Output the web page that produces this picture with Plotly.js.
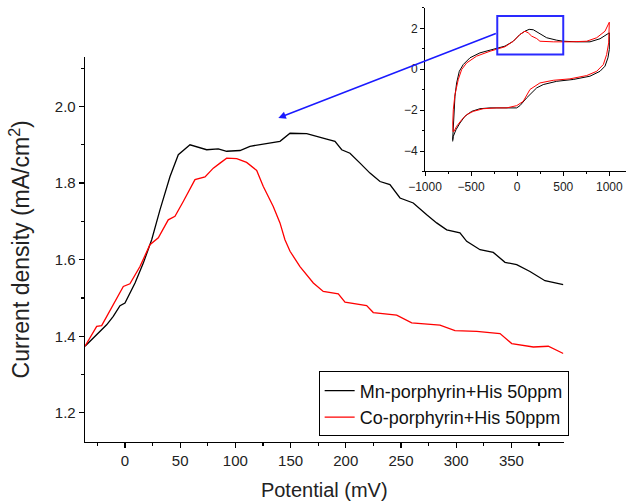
<!DOCTYPE html>
<html><head><meta charset="utf-8">
<script src="https://cdn.plot.ly/plotly-3.0.1.min.js"></script>
<style>html,body{margin:0;padding:0;background:#fff}#chart{width:626px;height:501px}</style>
</head><body><div id="chart"></div>
<script>
// Main chart data (Potential mV vs current density mA/cm2)
const mnX = [-36.2,-25.6,-16.6,-10.6,-4.5,0,9.1,16.6,24.2,31.7,40.8,48.3,58.9,74,84.5,92.1,104.2,113.2,122.3,131.3,140.4,149.5,164.6,182.7,190.2,196.3,203.8,212.9,221.9,231,240,249.1,261.1,273.3,282.3,291.4,303.4,309.5,321.6,333.6,344.2,354.8,366.8,380.4,397];
const mnY = [1.374,1.404,1.430,1.452,1.480,1.487,1.539,1.591,1.652,1.730,1.817,1.874,1.900,1.887,1.889,1.883,1.885,1.896,1.900,1.904,1.909,1.930,1.929,1.915,1.909,1.887,1.878,1.852,1.826,1.804,1.796,1.761,1.748,1.717,1.696,1.678,1.670,1.648,1.626,1.619,1.593,1.587,1.569,1.545,1.535];
const coX = [-36.2,-25.6,-21.1,-10.6,-1.5,4.5,13.6,22.6,30.2,39.2,45.3,52.8,63.4,72.5,80,86.1,92.1,101.2,110.2,119.3,125.3,134.3,140.4,144.9,149.5,158.5,167.6,170.6,179.6,193.2,199.3,218.9,224.9,246.1,259.7,285.3,298.9,318.6,339.7,350.3,369.9,383.4,397];
const coY = [1.374,1.426,1.428,1.483,1.530,1.537,1.582,1.639,1.657,1.704,1.713,1.752,1.809,1.816,1.839,1.852,1.865,1.864,1.854,1.833,1.791,1.739,1.696,1.652,1.622,1.582,1.548,1.539,1.517,1.511,1.489,1.480,1.462,1.455,1.435,1.429,1.415,1.413,1.407,1.381,1.372,1.374,1.355];
const seriesNames = ["Mn-porphyrin+His 50ppm", "Co-porphyrin+His 50ppm"];

// Inset CV loops
const mnCvX = [-700,-693,-686,-675,-657,-628,-585,-512,-404,-259,-132,-42,30,85,130,175,247,320,429,500,646,790,899,964,1000,1000,1000,985,953,899,790,609,429,283,212,103,30,-5,-114,-295,-404,-494,-567,-621,-664,-693,-700];
const mnCvY = [-3.45,-2.79,-2.14,-1.32,-0.67,-0.10,0.23,0.56,0.80,0.97,1.13,1.37,1.70,1.86,1.95,1.93,1.74,1.54,1.42,1.37,1.34,1.34,1.49,1.65,1.78,1.62,0.97,0.56,0.15,-0.10,-0.34,-0.50,-0.59,-0.75,-0.91,-1.40,-1.78,-1.89,-1.89,-1.89,-1.93,-2.06,-2.30,-2.63,-2.96,-3.28,-3.53];
const coCvX = [-697,-699,-693,-675,-639,-602,-548,-440,-295,-132,-42,30,85,120,157,212,247,392,573,754,863,953,1000,1000,993,971,935,863,754,573,392,247,139,66,-5,-114,-222,-368,-476,-548,-602,-657,-686,-697];
const coCvY = [-3.04,-2.63,-1.98,-1.24,-0.50,-0.01,0.31,0.64,0.88,1.10,1.37,1.70,1.86,1.78,1.62,1.50,1.37,1.34,1.34,1.37,1.54,1.86,2.30,1.78,1.29,0.72,0.23,-0.10,-0.31,-0.47,-0.54,-0.67,-0.99,-1.57,-1.78,-1.89,-1.89,-1.93,-2.06,-2.22,-2.47,-2.79,-3.04,-3.04];

const FONT = 'Arial, "Liberation Sans", sans-serif';

const traces = [
  {x: mnX, y: mnY, type: 'scatter', mode: 'lines', name: seriesNames[0], line: {color: '#000000', width: 1.3}, xaxis: 'x', yaxis: 'y'},
  {x: coX, y: coY, type: 'scatter', mode: 'lines', name: seriesNames[1], line: {color: '#ff0000', width: 1.3}, xaxis: 'x', yaxis: 'y'},
  {x: mnCvX, y: mnCvY, type: 'scatter', mode: 'lines', showlegend: false, line: {color: '#000000', width: 1}, xaxis: 'x2', yaxis: 'y2'},
  {x: coCvX, y: coCvY, type: 'scatter', mode: 'lines', showlegend: false, line: {color: '#ff0000', width: 1}, xaxis: 'x2', yaxis: 'y2'}
];

const layout = {
  width: 626, height: 501,
  margin: {l: 85, r: 0, t: 5, b: 58.5},
  paper_bgcolor: '#ffffff', plot_bgcolor: 'rgba(0,0,0,0)',
  font: {family: FONT, color: '#222'},
  showlegend: true,
  legend: {x: 0.894, xanchor: 'right', y: 0.0126, yanchor: 'bottom', bgcolor: '#ffffff', bordercolor: '#000', borderwidth: 1, font: {size: 18, family: FONT, color: '#111'}, tracegroupgap: 0, itemwidth: 30},
  xaxis: {domain: [0, 0.8845], range: [-36.2, 397.2], showgrid: false, zeroline: false, showline: true, linecolor: '#000', linewidth: 1.3,
    ticks: 'outside', ticklen: 5, tickwidth: 1.2, tickcolor: '#000', tick0: 0, dtick: 50, tickfont: {size: 15, family: FONT, color: '#222'},
    minor: {ticks: 'outside', ticklen: 3, tickwidth: 1.2, tickcolor: '#000', dtick: 25, tick0: 0, showgrid: false},
    title: {text: 'Potential (mV)', font: {size: 20, family: FONT, color: '#222'}, standoff: 19}, anchor: 'y', automargin: false},
  yaxis: {domain: [0, 0.8818], range: [1.124, 2.13], showgrid: false, zeroline: false, showline: true, linecolor: '#000', linewidth: 1.3,
    ticks: 'outside', ticklen: 5, tickwidth: 1.2, tickcolor: '#000', tick0: 0, dtick: 0.2, tickformat: '.1f', tickfont: {size: 15, family: FONT, color: '#222'},
    minor: {ticks: 'outside', ticklen: 3, tickwidth: 1.2, tickcolor: '#000', dtick: 0.1, tick0: 0, showgrid: false},
    title: {text: 'Current density (mA/cm<sup>2</sup>)', font: {size: 23, family: FONT, color: '#222'}, standoff: 18}, anchor: 'x', automargin: false},
  xaxis2: {domain: [0.6285, 1], range: [-1000, 1181], anchor: 'y2', showgrid: false, zeroline: false, showline: true, linecolor: '#000', linewidth: 1,
    ticks: 'outside', ticklen: 4, tickwidth: 1, tickcolor: '#000', tick0: 0, dtick: 500, tickfont: {size: 12, family: FONT, color: '#222'},
    minor: {ticks: 'outside', ticklen: 2, tickwidth: 1, tickcolor: '#000', dtick: 250, tick0: 0, showgrid: false}, automargin: false},
  yaxis2: {domain: [0.619, 0.9934], range: [-5, 3], anchor: 'x2', showgrid: false, zeroline: false, showline: true, linecolor: '#000', linewidth: 1,
    ticks: 'outside', ticklen: 4, tickwidth: 1, tickcolor: '#000', tick0: 0, dtick: 2, tickfont: {size: 12, family: FONT, color: '#222'},
    minor: {ticks: 'outside', ticklen: 2, tickwidth: 1, tickcolor: '#000', dtick: 1, tick0: 0, showgrid: false}, automargin: false},
  shapes: [
    {type: 'rect', xref: 'x2', yref: 'y2', x0: -216, x1: 500, y0: 0.72, y1: 2.6, line: {color: '#2a2aff', width: 2}, fillcolor: 'rgba(0,0,0,0)'}
  ],
  annotations: [
    {xref: 'x', yref: 'y', x: 138.9, y: 1.97, axref: 'pixel', ayref: 'pixel', ax: 219, ay: -85, text: '', showarrow: true,
     arrowhead: 2, arrowsize: 1, arrowwidth: 1.5, arrowcolor: '#1a1aff', standoff: 0, startstandoff: 0}
  ]
};

Plotly.newPlot('chart', traces, layout, {displayModeBar: false, staticPlot: true});
</script>
</body></html>
